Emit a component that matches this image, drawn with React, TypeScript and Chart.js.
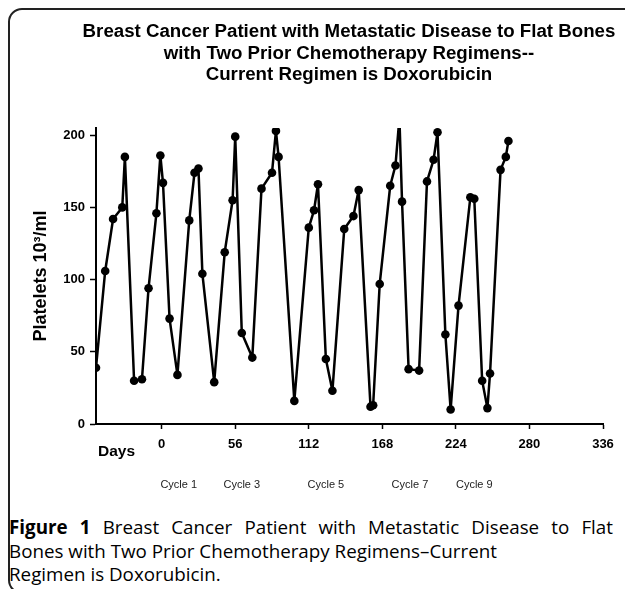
import React, { useEffect, useRef } from "react";
import { Chart, registerables } from "chart.js";

Chart.register(...registerables);

const titleLines = [
  "Breast Cancer Patient with Metastatic Disease to Flat Bones",
  "with Two Prior Chemotherapy Regimens--",
  "Current Regimen is Doxorubicin",
];

const days = [
  -50, -43, -37, -30, -28, -21, -15, -10, -4, -1, 1, 6, 12, 21, 25, 28, 31, 40,
  48, 54, 56, 61, 69, 76, 84, 87, 89, 101, 112, 116, 119, 125, 130, 139, 146,
  150, 159, 161, 166, 174, 178, 181, 183, 188, 196, 202, 207, 210, 216, 220,
  226, 235, 238, 244, 248, 250, 258, 262, 264,
];

const platelets = [
  39, 106, 142, 150, 185, 30, 31, 94, 146, 186, 167, 73, 34, 141, 174, 177, 104,
  29, 119, 155, 199, 63, 46, 163, 174, 203, 185, 16, 136, 148, 166, 45, 23, 135,
  144, 162, 12, 13, 97, 165, 179, 212, 154, 38, 37, 168, 183, 202, 62, 10, 82,
  157, 156, 30, 11, 35, 176, 185, 196,
];

const xTicks = [0, 56, 112, 168, 224, 280, 336];
const yTicks = [0, 50, 100, 150, 200];
const cycleLabels = ["Cycle 1", "Cycle 3", "Cycle 5", "Cycle 7", "Cycle 9"];
const cycleAt = [13, 61, 125, 189, 238];
const xAxisLabel = "Days";
const yAxisLabel = "Platelets 10³/ml";

const captionLines = [
  "Breast Cancer Patient with Metastatic Disease to Flat",
  "Bones with Two Prior Chemotherapy Regimens–Current",
  "Regimen is Doxorubicin.",
];

const FAMILY = "'Liberation Sans', Arial, Helvetica, sans-serif";

export default function App() {
  const ref = useRef<HTMLCanvasElement>(null);

  useEffect(() => {
    if (!ref.current) return;
    const labelsPlugin = {
      id: "extraLabels",
      afterDraw(chart: any) {
        const { ctx } = chart;
        const x = chart.scales.x;
        ctx.save();
        ctx.fillStyle = "#000";
        ctx.font = `bold 15.5px ${FAMILY}`;
        ctx.textAlign = "left";
        ctx.textBaseline = "alphabetic";
        ctx.fillText(xAxisLabel, x.left + 2, 456);
        ctx.font = `11px ${FAMILY}`;
        ctx.fillStyle = "#222";
        ctx.textAlign = "center";
        ctx.textBaseline = "middle";
        cycleLabels.forEach((l, i) => {
          ctx.fillText(l, x.getPixelForValue(cycleAt[i]), 485);
        });
        ctx.restore();
      },
    };

    const chart = new Chart(ref.current, {
      type: "line",
      data: {
        datasets: [
          {
            data: days.map((d, i) => ({ x: d, y: platelets[i] })),
            borderColor: "#000",
            backgroundColor: "#000",
            borderWidth: 2.5,
            borderJoinStyle: "round",
            borderCapStyle: "round",
            pointRadius: 4.3,
            pointBackgroundColor: "#000",
            pointBorderColor: "#000",
            pointBorderWidth: 0,
            tension: 0,
          },
        ],
      },
      options: {
        responsive: false,
        animation: false,
        devicePixelRatio: 1,
        layout: { padding: { left: 0, top: 128, right: 22, bottom: 0 } },
        plugins: {
          legend: { display: false },
          tooltip: { enabled: false },
          title: { display: false },
        },
        scales: {
          x: {
            type: "linear",
            min: -50,
            max: 336,
            afterBuildTicks: (s: any) => {
              s.ticks = xTicks.map((v) => ({ value: v }));
            },
            afterFit: (s: any) => {
              s.height = 76;
            },
            grid: {
              display: true,
              drawOnChartArea: false,
              drawTicks: true,
              tickLength: 5,
              tickColor: "#000",
              tickWidth: 1.5,
            },
            border: { color: "#000", width: 2 },
            ticks: {
              color: "#000",
              font: { family: FAMILY, size: 13, weight: "bold" },
              padding: 8,
              maxRotation: 0,
              autoSkip: false,
            },
          },
          y: {
            type: "linear",
            min: 0,
            max: 205,
            afterBuildTicks: (s: any) => {
              s.ticks = yTicks.map((v) => ({ value: v }));
            },
            afterFit: (s: any) => {
              s.width = 96;
            },
            grid: {
              display: true,
              drawOnChartArea: false,
              drawTicks: true,
              tickLength: 6,
              tickColor: "#000",
              tickWidth: 1.5,
            },
            border: { color: "#000", width: 2 },
            ticks: {
              color: "#000",
              font: { family: FAMILY, size: 13, weight: "bold" },
              padding: 5,
            },
            title: {
              display: true,
              text: yAxisLabel,
              color: "#000",
              font: { family: FAMILY, size: 18, weight: "bold" },
              padding: { top: 30, bottom: 0 },
            },
          },
        },
      },
      plugins: [labelsPlugin],
    } as any);
    return () => chart.destroy();
  }, []);

  return (
    <div
      style={{
        position: "fixed",
        left: 0,
        top: 0,
        width: 625,
        height: 589,
        overflow: "hidden",
        background: "#fff",
      }}
    >
      <canvas
        ref={ref}
        width={625}
        height={500}
        style={{ position: "absolute", left: 0, top: 0, width: 625, height: 500 }}
      />
      <div
        style={{
          position: "absolute",
          left: 0,
          top: 20,
          width: 698,
          textAlign: "center",
          fontFamily: FAMILY,
          fontWeight: "bold",
          fontSize: 18.7,
          lineHeight: "21.5px",
          color: "#000",
        }}
      >
        {titleLines.map((t, i) => (
          <div key={i}>{t}</div>
        ))}
      </div>
      <div
        style={{
          position: "absolute",
          left: 9,
          top: 516,
          width: 604,
          fontFamily: "'Open Sans', 'Noto Sans', sans-serif",
          fontSize: 18.8,
          lineHeight: "23.5px",
          color: "#000",
          whiteSpace: "nowrap",
        }}
      >
        <div style={{ textAlign: "justify", textAlignLast: "justify" }}>
          <b>Figure 1</b> {captionLines[0]}
        </div>
        <div>{captionLines[1]}</div>
        <div>{captionLines[2]}</div>
      </div>
      <div
        style={{
          position: "absolute",
          left: 8,
          top: 8,
          width: 660,
          height: 582,
          border: "2px solid #222",
          borderRadius: 14,
          pointerEvents: "none",
        }}
      />
    </div>
  );
}
